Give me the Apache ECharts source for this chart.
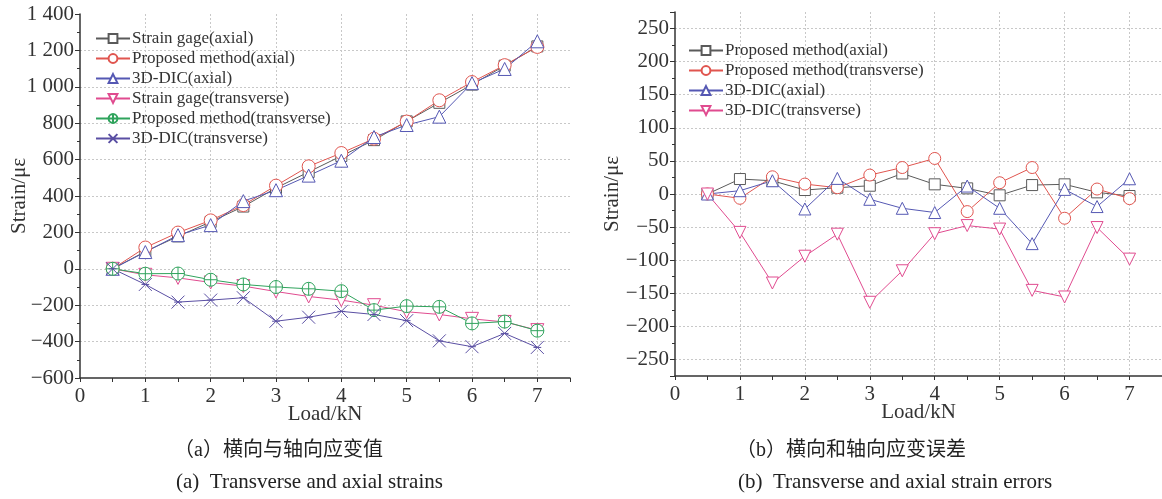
<!DOCTYPE html>
<html>
<head>
<meta charset="utf-8">
<script src="https://cdn.jsdelivr.net/npm/echarts@6/dist/echarts.min.js"></script>
<style>
  html, body { margin: 0; padding: 0; background: #fff; }
  #wrap { position: relative; width: 1162px; height: 499px; }
  #left { position: absolute; left: 0; top: 0; width: 600px; height: 499px; }
  #right { position: absolute; left: 600px; top: 0; width: 562px; height: 499px; }
</style>
</head>
<body>
<div id="wrap"><div id="left"></div><div id="right"></div></div>
<script>
// load steps (kN)
const loads = [0.5, 1, 1.5, 2, 2.5, 3, 3.5, 4, 4.5, 5, 5.5, 6, 6.5, 7];

// (a) strains, με
const gageAxial = [0, 95, 178, 258, 342, 444, 532, 620, 707, 810, 912, 1012, 1116, 1222];
const propAxial = [0, 117, 199, 266, 350, 457, 563, 636, 715, 809, 926, 1026, 1119, 1219];
const dicAxial = [0, 92, 185, 240, 372, 432, 512, 594, 724, 790, 836, 1020, 1098, 1250];
const gageTrans = [0, -33, -50, -75, -95, -125, -152, -172, -200, -236, -251, -275, -292, -337];
const propTrans = [0, -27, -26, -60, -86, -100, -110, -123, -227, -205, -209, -300, -290, -340];
const dicTrans = [0, -86, -183, -172, -159, -288, -266, -234, -251, -285, -396, -428, -355, -432];

// (b) strain errors, με
const errPropAxial = [0, 22.6, 20, 6, 9.5, 12.5, 31, 14.6, 8.5, -2, 13.5, 14.6, 2.5, -3];
const errPropTrans = [0, -6.5, 26, 15, 9.5, 28.6, 40, 53.7, -26.6, 17, 40, -36.6, 7.5, -7];
const errDicAxial = [0, 5, 20, -22.6, 23.6, -8, -21.6, -28, 12, -21.6, -75, 7, -19, 23];
const errDicTrans = [0, -58, -134.5, -94, -60.7, -163.6, -116, -60, -47.7, -53, -145.6, -155.6, -50.7, -98.4];

const FONT = "'Liberation Serif', 'Times New Roman', 'Noto Sans CJK SC', serif";
const GRAY = '#5a5a5a', RED = '#e0554f', BLUE = '#5558b3', PINK = '#e04b8f', GREEN = '#2fa35c', PURPLE = '#5a4fa3';

const CIRCLE_PLUS = 'path://M10,0A10,10,0,1,1,10,20A10,10,0,1,1,10,0ZM10,0L10,20M0,10L20,10';
const CROSS = 'path://M0,0L20,20M20,0L0,20M4,10L16,10';

const pairs = (vals) => loads.map((x, i) => [x, vals[i]]);

function makeSeries(name, vals, color, symbol, size, rotate) {
  return {
    name: name,
    type: 'line',
    data: pairs(vals),
    symbol: symbol,
    symbolSize: size,
    symbolRotate: rotate || 0,
    lineStyle: { color: color, width: 1 },
    itemStyle: { color: '#fff', borderColor: color, borderWidth: 1 },
    emphasis: { disabled: true },
    z: 3
  };
}

const gridLine = { show: true, lineStyle: { color: '#c8c8c8', type: [2, 2], width: 1 }, showMaxLine: false, showMinLine: false };
const axisLine = { show: true, onZero: false, lineStyle: { color: '#333', width: 1.5 } };

function xAxisCfg() {
  return {
    type: 'value', min: 0, max: 7.5, interval: 1,
    name: 'Load/kN', nameLocation: 'middle', nameGap: 26, nameMoveOverlap: false,
    nameTextStyle: { fontFamily: FONT, fontSize: 21, color: '#333' },
    axisLine: axisLine,
    axisTick: { show: true, length: 4, lineStyle: { color: '#333' } },
    minorTick: { show: true, splitNumber: 2, length: 4, lineStyle: { color: '#333' } },
    axisLabel: {
      fontFamily: FONT, fontSize: 21, color: '#333', margin: 8,
      formatter: (v) => (Number.isInteger(v) ? String(v) : '')
    },
    splitLine: gridLine
  };
}

function legendCfg(left, top, names) {
  return {
    orient: 'vertical', left: left, top: top,
    data: names,
    itemWidth: 34, itemHeight: 11, itemGap: 3,
    textStyle: { fontFamily: FONT, fontSize: 17, color: '#333', padding: [0, 0, 0, -3] },
    selectedMode: false
  };
}

// (a) Transverse and axial strains
const leftChart = echarts.init(document.getElementById('left'));
leftChart.setOption({
  animation: false,
  grid: { left: 80, top: 14, width: 490, height: 364, outerBoundsMode: 'none', containLabel: false },
  legend: legendCfg(90, 25, ['Strain gage(axial)', 'Proposed method(axial)', '3D-DIC(axial)',
    'Strain gage(transverse)', 'Proposed method(transverse)', '3D-DIC(transverse)']),
  xAxis: xAxisCfg(),
  yAxis: {
    type: 'value', min: -600, max: 1400, interval: 200,
    name: 'Strain/με', nameLocation: 'middle', nameGap: 50, nameMoveOverlap: false,
    nameTextStyle: { fontFamily: FONT, fontSize: 21, color: '#333' },
    axisLine: axisLine,
    axisTick: { show: true, length: 5, lineStyle: { color: '#333' } },
    minorTick: { show: true, splitNumber: 2, length: 3, lineStyle: { color: '#333' } },
    axisLabel: {
      fontFamily: FONT, fontSize: 21, color: '#333', margin: 6,
      formatter: (v) => {
        const s = String(Math.abs(v));
        const t = s.length > 3 ? s.slice(0, -3) + ' ' + s.slice(-3) : s;
        return v < 0 ? '\u2212' + t : t;
      }
    },
    splitLine: gridLine
  },
  series: [
    makeSeries('Strain gage(axial)', gageAxial, GRAY, 'rect', 11),
    makeSeries('Proposed method(axial)', propAxial, RED, 'circle', 13),
    makeSeries('3D-DIC(axial)', dicAxial, BLUE, 'triangle', 13),
    makeSeries('Strain gage(transverse)', gageTrans, PINK, 'triangle', 13, 180),
    makeSeries('Proposed method(transverse)', propTrans, GREEN, CIRCLE_PLUS, 13),
    makeSeries('3D-DIC(transverse)', dicTrans, PURPLE, CROSS, 13)
  ],
  graphic: [
    { type: 'text', left: 174, top: 441, style: { text: '（a）横向与轴向应变值', font: "20px " + FONT, fill: '#222' } },
    { type: 'text', left: 176, top: 472, style: { text: '(a)  Transverse and axial strains', font: "21px " + FONT, fill: '#222' } }
  ]
});

// (b) Transverse and axial strain errors
const rightChart = echarts.init(document.getElementById('right'));
rightChart.setOption({
  animation: false,
  grid: { left: 75, top: 12, right: 0, height: 364, outerBoundsMode: 'none', containLabel: false },
  legend: legendCfg(83, 37, ['Proposed method(axial)', 'Proposed method(transverse)',
    '3D-DIC(axial)', '3D-DIC(transverse)']),
  xAxis: xAxisCfg(),
  yAxis: {
    type: 'value', min: -275, max: 275, splitNumber: 11,
    name: 'Strain/με', nameLocation: 'middle', nameGap: 52, nameMoveOverlap: false,
    nameTextStyle: { fontFamily: FONT, fontSize: 21, color: '#333' },
    axisLine: axisLine,
    axisTick: { show: true, length: 5, lineStyle: { color: '#333' } },
    minorTick: { show: true, splitNumber: 2, length: 3, lineStyle: { color: '#333' } },
    axisLabel: {
      fontFamily: FONT, fontSize: 21, color: '#333', margin: 6,
      formatter: (v) => (v % 50 !== 0 ? '' : (v < 0 ? '\u2212' + Math.abs(v) : String(v)))
    },
    splitLine: gridLine
  },
  series: [
    makeSeries('Proposed method(axial)', errPropAxial, GRAY, 'rect', 11),
    makeSeries('Proposed method(transverse)', errPropTrans, RED, 'circle', 12),
    makeSeries('3D-DIC(axial)', errDicAxial, BLUE, 'triangle', 12),
    makeSeries('3D-DIC(transverse)', errDicTrans, PINK, 'triangle', 12, 180)
  ],
  graphic: [
    { type: 'text', left: 136, top: 441, style: { text: '（b）横向和轴向应变误差', font: "20px " + FONT, fill: '#222' } },
    { type: 'text', left: 138, top: 472, style: { text: '(b)  Transverse and axial strain errors', font: "21px " + FONT, fill: '#222' } }
  ]
});
</script>
</body>
</html>
